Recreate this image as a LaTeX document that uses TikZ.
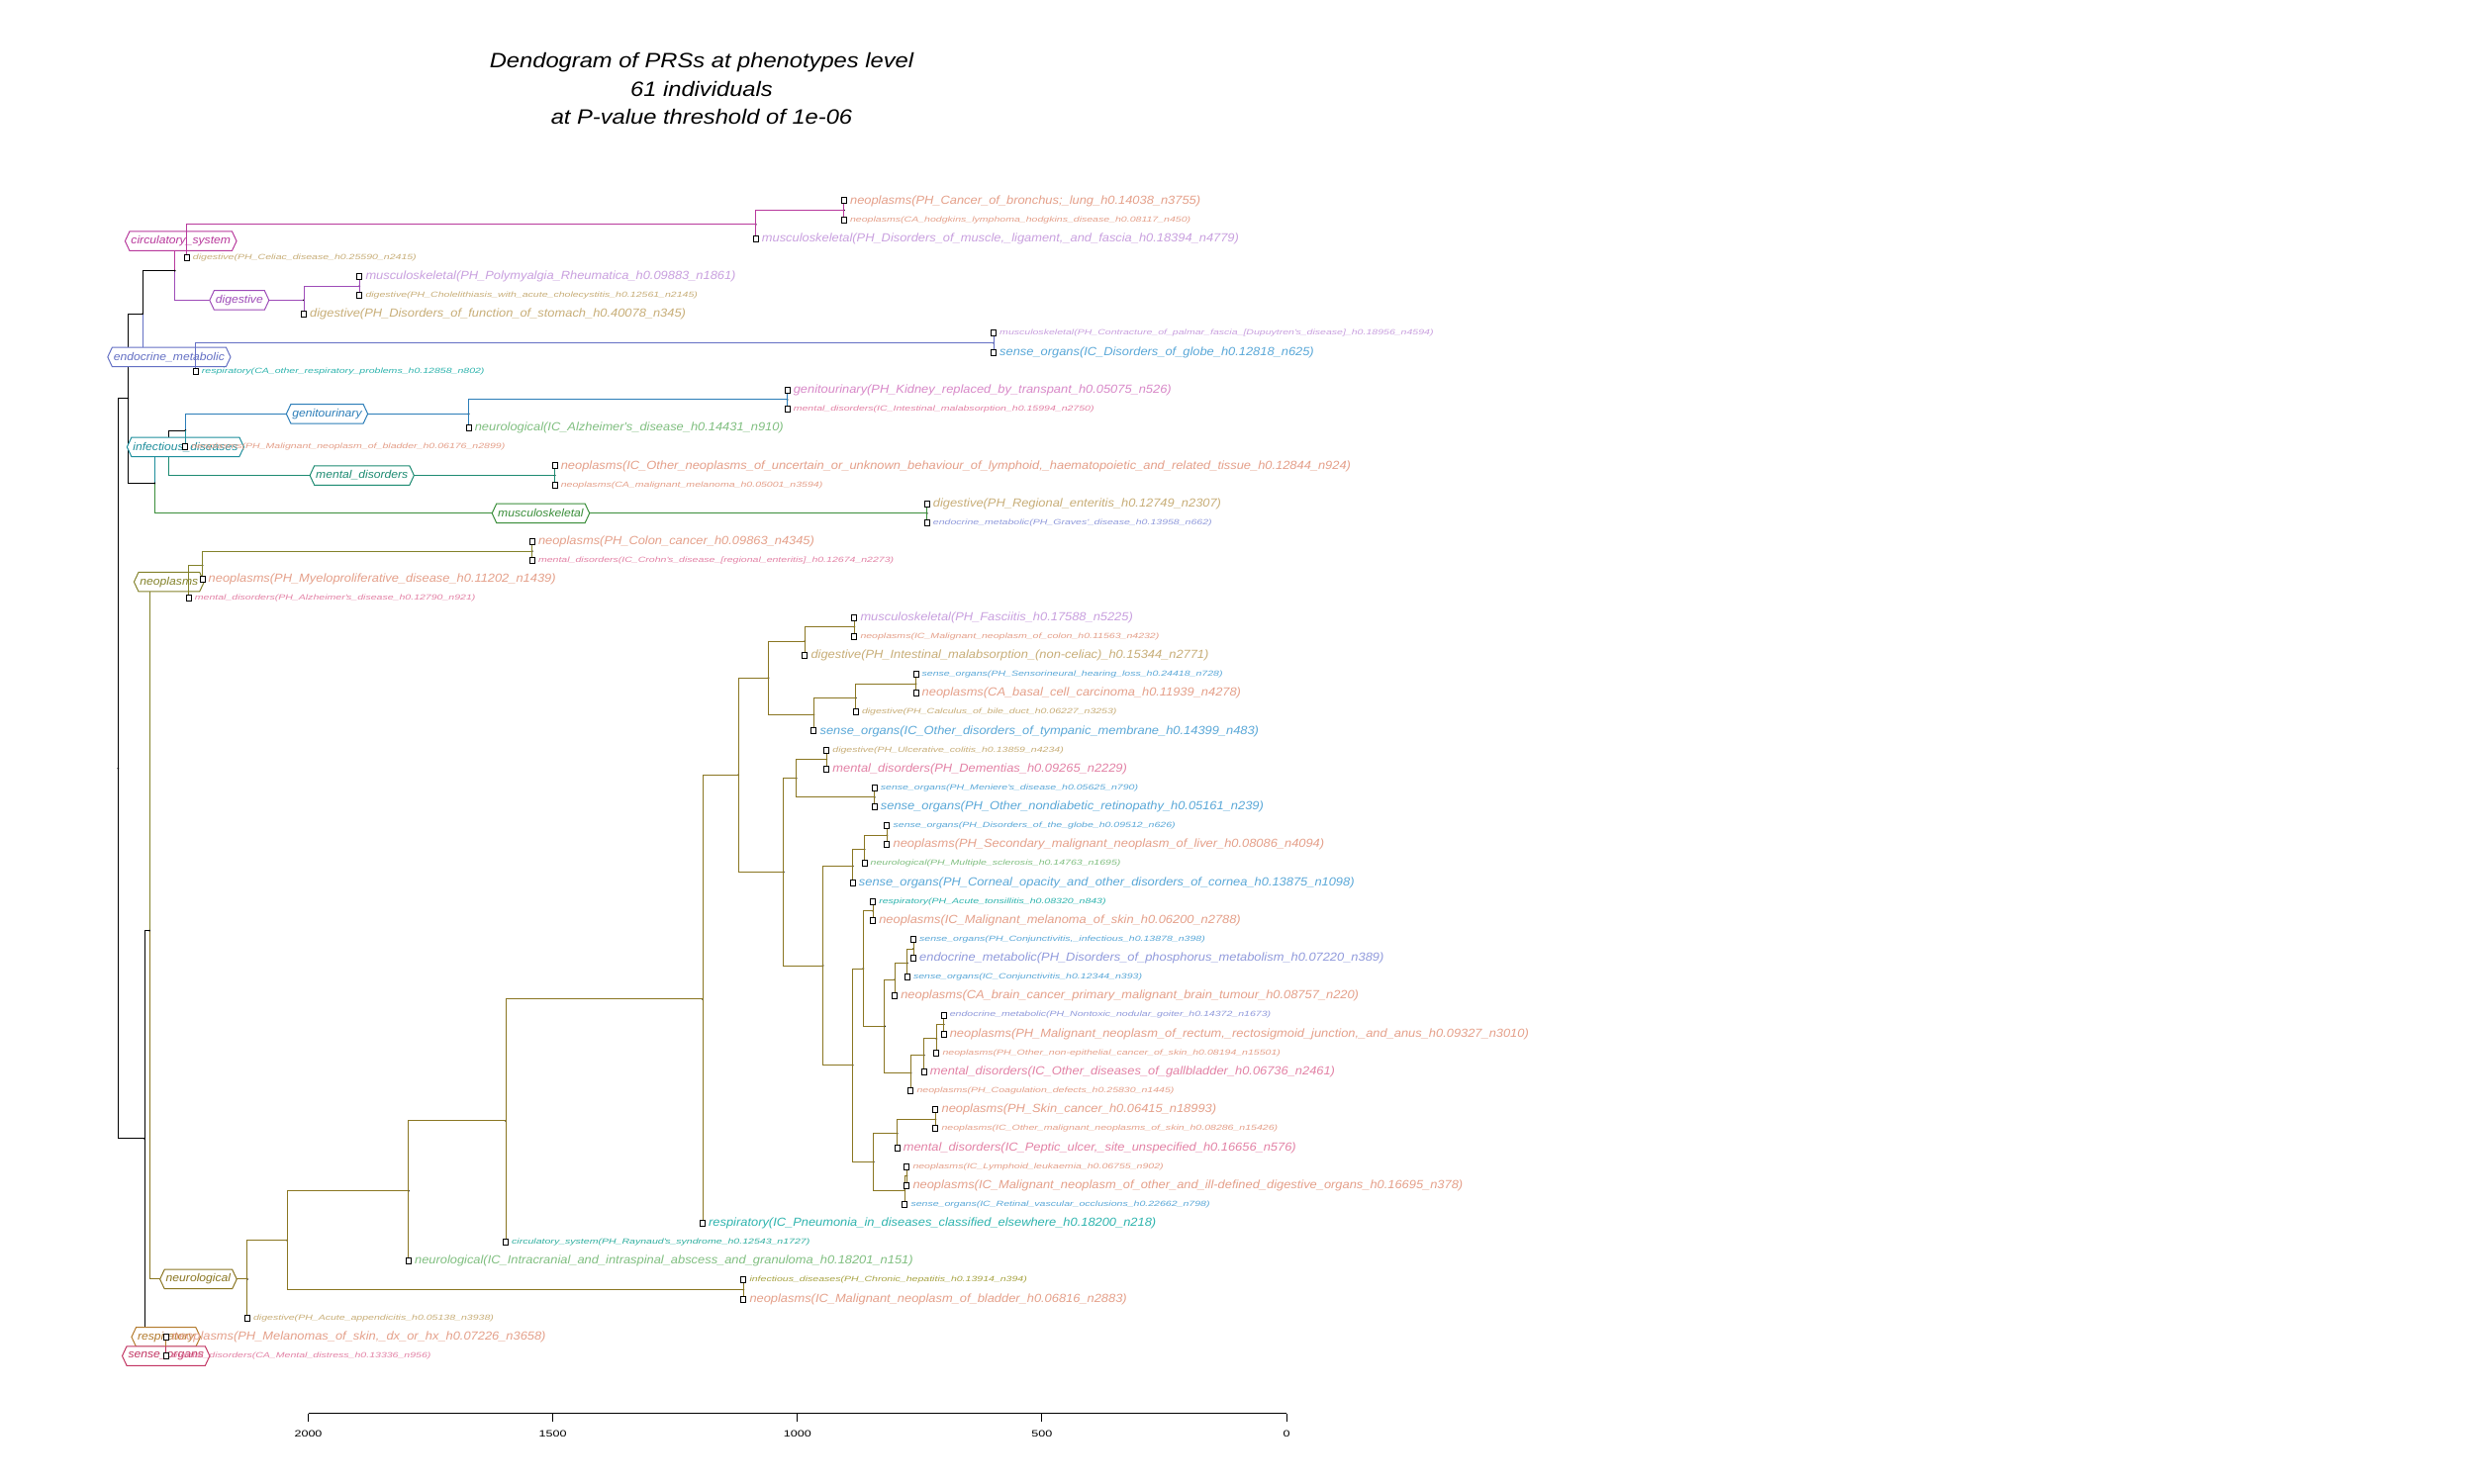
\documentclass[tikz,border=0pt]{standalone}
\usepackage{fontspec}
\usetikzlibrary{shapes.symbols,calc}
\newfontfamily\bigf{Liberation Sans}[FakeStretch=1.08]
\newfontfamily\smf{Liberation Sans}[FakeStretch=1.39]
\newfontfamily\axf{Liberation Sans}[FakeStretch=1.35]
\newfontfamily\ttlf{Liberation Sans}[FakeStretch=1.13]
\newcommand\apo{\textquotesingle}
% group (branch) colours
\definecolor{gcir}{HTML}{B8399C}
\definecolor{gdig}{HTML}{9E4CB8}
\definecolor{gend}{HTML}{6470C4}
\definecolor{ggen}{HTML}{2B7DB8}
\definecolor{ginf}{HTML}{1E8E9C}
\definecolor{gmen}{HTML}{1D8B72}
\definecolor{gmus}{HTML}{3A8E3A}
\definecolor{gneo}{HTML}{83822A}
\definecolor{gneu}{HTML}{8A7622}
\definecolor{gres}{HTML}{B37A2C}
\definecolor{gsen}{HTML}{C23462}
% leaf label colours
\definecolor{lneo}{HTML}{E5A08A}
\definecolor{lmus}{HTML}{C9A0DF}
\definecolor{ldig}{HTML}{C8AE78}
\definecolor{lsen}{HTML}{5AA8D8}
\definecolor{lmen}{HTML}{E382A6}
\definecolor{lend}{HTML}{909ADC}
\definecolor{lneu}{HTML}{80BF80}
\definecolor{lgen}{HTML}{D888C8}
\definecolor{lres}{HTML}{2EB4AE}
\definecolor{lcir}{HTML}{30AFA0}
\definecolor{linf}{HTML}{A8A444}
\newcommand\ed[3]{\draw[ln,draw=#1] (#2) |- (#3);}
\newcommand\LB[4]{\node[leafbox] (b#1) at (l#1) {};\node[#2,text=#3] (t#1) at ([xshift=0.55mm]l#1) {#4};}
\begin{document}
\begin{tikzpicture}[x=0.1mm,y=-0.1mm,
  declare function={ly(\i)=203+19.14*(\i-1);},
  ln/.style={line width=0.1mm},
  leafbox/.style={draw=black,line width=0.1mm,minimum width=0.5mm,minimum height=0.6mm,inner sep=0pt,fill=white},
  bigl/.style={font=\bigf\itshape\fontsize{3.39pt}{4pt}\selectfont,anchor=west,inner sep=0pt},
  smll/.style={font=\smf\itshape\fontsize{2.16pt}{3pt}\selectfont,anchor=west,inner sep=0pt},
  hexa/.style={shape=signal,signal to=east and west,signal pointer angle=130,draw=#1,text=#1,fill=white,line width=0.1mm,
    font=\bigf\itshape\fontsize{3.2pt}{4pt}\selectfont,inner xsep=0.15mm,inner ysep=0.45mm,minimum height=1.95mm},
  ndot/.style={circle,fill=black,inner sep=0pt,minimum size=0.2mm},
  ttl/.style={font=\ttlf\itshape\fontsize{5.97pt}{7pt}\selectfont,inner sep=0pt},
  axl/.style={font=\axf\fontsize{2.65pt}{3pt}\selectfont,inner sep=0pt},
  axln/.style={line width=0.1mm,draw=black}]
\fill[white] (0,0) rectangle (2500,1500);
\path[use as bounding box] (0,0) rectangle (2500,1500);
% title
\node[ttl] (ttl1) at (709,63) {Dendogram of PRSs at phenotypes level};
\node[ttl] (ttl2) at (709,90) {61 individuals};
\node[ttl] (ttl3) at (709,118) {at P-value threshold of 1e-06};
% leaves
\coordinate (l1) at (852.9,{ly(1)}); \coordinate (l2) at (852.9,{ly(2)});
\coordinate (l3) at (763.7,{ly(3)}); \coordinate (l4) at (188.75,{ly(4)});
\coordinate (l5) at (363.3,{ly(5)}); \coordinate (l6) at (363.3,{ly(6)});
\coordinate (l7) at (307,{ly(7)}); \coordinate (l8) at (1004,{ly(8)});
\coordinate (l9) at (1004,{ly(9)}); \coordinate (l10) at (197.7,{ly(10)});
\coordinate (l11) at (795.6,{ly(11)}); \coordinate (l12) at (795.6,{ly(12)});
\coordinate (l13) at (473.6,{ly(13)}); \coordinate (l14) at (187.4,{ly(14)});
\coordinate (l15) at (560.6,{ly(15)}); \coordinate (l16) at (560.6,{ly(16)});
\coordinate (l17) at (936.7,{ly(17)}); \coordinate (l18) at (936.7,{ly(18)});
\coordinate (l19) at (537.8,{ly(19)}); \coordinate (l20) at (537.8,{ly(20)});
\coordinate (l21) at (204.5,{ly(21)}); \coordinate (l22) at (190.7,{ly(22)});
\coordinate (l23) at (863.3,{ly(23)}); \coordinate (l24) at (863.3,{ly(24)});
\coordinate (l25) at (813.3,{ly(25)}); \coordinate (l26) at (925.5,{ly(26)});
\coordinate (l27) at (925.5,{ly(27)}); \coordinate (l28) at (864.8,{ly(28)});
\coordinate (l29) at (822.4,{ly(29)}); \coordinate (l30) at (835.2,{ly(30)});
\coordinate (l31) at (835.2,{ly(31)}); \coordinate (l32) at (883.7,{ly(32)});
\coordinate (l33) at (883.7,{ly(33)}); \coordinate (l34) at (896.4,{ly(34)});
\coordinate (l35) at (896.4,{ly(35)}); \coordinate (l36) at (873.5,{ly(36)});
\coordinate (l37) at (861.7,{ly(37)}); \coordinate (l38) at (882.1,{ly(38)});
\coordinate (l39) at (882.1,{ly(39)}); \coordinate (l40) at (923,{ly(40)});
\coordinate (l41) at (923,{ly(41)}); \coordinate (l42) at (916.8,{ly(42)});
\coordinate (l43) at (904.1,{ly(43)}); \coordinate (l44) at (953.6,{ly(44)});
\coordinate (l45) at (953.6,{ly(45)}); \coordinate (l46) at (946.4,{ly(46)});
\coordinate (l47) at (933.7,{ly(47)}); \coordinate (l48) at (920.4,{ly(48)});
\coordinate (l49) at (945.4,{ly(49)}); \coordinate (l50) at (945.4,{ly(50)});
\coordinate (l51) at (906.6,{ly(51)}); \coordinate (l52) at (916.3,{ly(52)});
\coordinate (l53) at (916.3,{ly(53)}); \coordinate (l54) at (914.3,{ly(54)});
\coordinate (l55) at (710,{ly(55)}); \coordinate (l56) at (511,{ly(56)});
\coordinate (l57) at (412.9,{ly(57)}); \coordinate (l58) at (751.3,{ly(58)});
\coordinate (l59) at (751.3,{ly(59)}); \coordinate (l60) at (249.9,{ly(60)});
\coordinate (l61) at (167.7,{ly(61)}); \coordinate (l62) at (167.7,{ly(62)});
% internal nodes
\coordinate (R) at (119.3,{ly(30.9778)});
\coordinate (A) at (129.3,{ly(11.4375)});
\coordinate (B) at (146,{ly(50.5181)});
\coordinate (C) at (144.1,{ly(6.96875)});
\coordinate (D) at (156.2,{ly(15.90625)});
\coordinate (P) at (176.7,{ly(4.6875)});
\coordinate (Q) at (188.75,{ly(3.125)});
\coordinate (Q2) at (763.7,{ly(2.25)});
\coordinate (Q3) at (852.9,{ly(1.5)});
\coordinate (Dg) at (307,{ly(6.25)});
\coordinate (Dg2) at (363.3,{ly(5.5)});
\coordinate (E) at (197.7,{ly(9.25)});
\coordinate (E2) at (1004,{ly(8.5)});
\coordinate (I1) at (170.9,{ly(14.3125)});
\coordinate (I2) at (187.4,{ly(13.125)});
\coordinate (G1) at (473.6,{ly(12.25)});
\coordinate (G2) at (795.6,{ly(11.5)});
\coordinate (Me) at (560.6,{ly(15.5)});
\coordinate (Mu) at (936.7,{ly(17.5)});
\coordinate (O) at (151,{ly(39.5362)});
\coordinate (N1) at (190.7,{ly(21.125)});
\coordinate (N2) at (204.5,{ly(20.25)});
\coordinate (N3) at (537.8,{ly(19.5)});
\coordinate (Nu1) at (249.9,{ly(57.9474)});
\coordinate (Nu2) at (290,{ly(55.8947)});
\coordinate (Nu3) at (751.3,{ly(58.5)});
\coordinate (Nu4) at (412.9,{ly(53.2894)});
\coordinate (Nu5) at (511,{ly(49.5789)});
\coordinate (Nu6) at (710,{ly(43.1577)});
\coordinate (Nu7) at (746,{ly(31.3154)});
\coordinate (M1) at (776.5,{ly(26.1875)});
\coordinate (M2) at (791.8,{ly(36.4434)});
\coordinate (M3) at (813.3,{ly(24.25)});
\coordinate (M4) at (863.3,{ly(23.5)});
\coordinate (M5) at (822.4,{ly(28.125)});
\coordinate (M6) at (864.8,{ly(27.25)});
\coordinate (M7) at (925.5,{ly(26.5)});
\coordinate (M8) at (804.6,{ly(31.5)});
\coordinate (M9) at (835.2,{ly(30.5)});
\coordinate (M10) at (883.7,{ly(32.5)});
\coordinate (M11) at (831.6,{ly(41.3867)});
\coordinate (M12) at (861.7,{ly(36.125)});
\coordinate (M13) at (873.5,{ly(35.25)});
\coordinate (M14) at (896.4,{ly(34.5)});
\coordinate (M15) at (861.7,{ly(46.6484)});
\coordinate (M16) at (872.4,{ly(41.546875)});
\coordinate (M17) at (882.1,{ly(38.5)});
\coordinate (M18) at (893.9,{ly(44.59375)});
\coordinate (M19) at (904.1,{ly(42.125)});
\coordinate (M20) at (916.8,{ly(41.25)});
\coordinate (M21) at (923,{ly(40.5)});
\coordinate (M22) at (920.4,{ly(47.0625)});
\coordinate (M23) at (933.7,{ly(46.125)});
\coordinate (M24) at (946.4,{ly(45.25)});
\coordinate (M25) at (953.6,{ly(44.5)});
\coordinate (M26) at (882.7,{ly(51.75)});
\coordinate (M27) at (906.6,{ly(50.25)});
\coordinate (M28) at (945.4,{ly(49.5)});
\coordinate (M29) at (914.3,{ly(53.25)});
\coordinate (M30) at (916.3,{ly(52.5)});
\coordinate (BP) at (167.7,{ly(61.5)});
% ---- pass 1: edges under the group labels
\ed{black}{R}{A} \ed{black}{R}{B} \ed{black}{A}{C} \ed{black}{A}{D}
\ed{black}{C}{P} \ed{black}{I1}{I2} \ed{black}{B}{O} \ed{black}{B}{BP}
\ed{gend}{C}{E} \ed{gcir}{P}{Q} \ed{gdig}{P}{Dg} \ed{ginf}{D}{I1}
\ed{gmen}{I1}{Me} \ed{ggen}{I2}{G1} \ed{gmus}{D}{Mu}
\ed{gneo}{O}{N1} \ed{gneu}{O}{Nu1}
% node dots
\foreach \n in {R,A,B,C,D,P,Q,Q2,Q3,Dg,Dg2,E,E2,I1,I2,G1,G2,Me,Mu,O,N1,N2,N3,Nu1,Nu2,Nu3,Nu4,Nu5,Nu6,Nu7,M1,M2,M3,M4,M5,M6,M7,M8,M9,M10,M11,M12,M13,M14,M15,M16,M17,M18,M19,M20,M21,M22,M23,M24,M25,M26,M27,M28,M29,M30,BP}
  \node[ndot] (dot\n) at (\n) {};
% ---- group labels
\node[hexa=gcir] (hcir) at ($(P |- Q)!0.5!(Q)$) {circulatory\_system};
\node[hexa=gdig] (hdig) at ($(P |- Dg)!0.5!(Dg)$) {digestive};
\node[hexa=gend] (hend) at ($(C |- E)!0.5!(E)$) {endocrine\_metabolic};
\node[hexa=ggen] (hgen) at ($(I2 |- G1)!0.5!(G1)$) {genitourinary};
\node[hexa=ginf] (hinf) at (l14) {infectious\_diseases};
\node[hexa=gmen] (hmen) at ($(I1 |- Me)!0.5!(Me)$) {mental\_disorders};
\node[hexa=gmus] (hmus) at ($(D |- Mu)!0.5!(Mu)$) {musculoskeletal};
\node[hexa=gneo] (hneo) at ($(O |- N1)!0.5!(N1)$) {neoplasms};
\node[hexa=gneu] (hneu) at ($(O |- Nu1)!0.5!(Nu1)$) {neurological};
\node[hexa=gres] (hres) at (l61) {respiratory};
\node[hexa=gsen] (hsen) at (l62) {sense\_organs};
% ---- pass 2: edges inside groups
\ed{gcir}{Q}{Q2} \ed{gcir}{Q}{l4} \ed{gcir}{Q2}{Q3} \ed{gcir}{Q2}{l3} \ed{gcir}{Q3}{l1} \ed{gcir}{Q3}{l2}
\ed{gdig}{Dg}{Dg2} \ed{gdig}{Dg}{l7} \ed{gdig}{Dg2}{l5} \ed{gdig}{Dg2}{l6}
\ed{gend}{E}{E2} \ed{gend}{E}{l10} \ed{gend}{E2}{l8} \ed{gend}{E2}{l9}
\ed{ginf}{I2}{l14}
\ed{ggen}{G1}{G2} \ed{ggen}{G1}{l13} \ed{ggen}{G2}{l11} \ed{ggen}{G2}{l12}
\ed{gmen}{Me}{l15} \ed{gmen}{Me}{l16}
\ed{gmus}{Mu}{l17} \ed{gmus}{Mu}{l18}
\ed{gneo}{N1}{N2} \ed{gneo}{N1}{l22} \ed{gneo}{N2}{N3} \ed{gneo}{N2}{l21} \ed{gneo}{N3}{l19} \ed{gneo}{N3}{l20}
\ed{gneu}{Nu1}{Nu2} \ed{gneu}{Nu1}{l60} \ed{gneu}{Nu2}{Nu4} \ed{gneu}{Nu2}{Nu3}
\ed{gneu}{Nu3}{l58} \ed{gneu}{Nu3}{l59} \ed{gneu}{Nu4}{Nu5} \ed{gneu}{Nu4}{l57}
\ed{gneu}{Nu5}{Nu6} \ed{gneu}{Nu5}{l56} \ed{gneu}{Nu6}{Nu7} \ed{gneu}{Nu6}{l55}
\ed{gneu}{Nu7}{M1} \ed{gneu}{Nu7}{M2}
\ed{gneu}{M1}{M3} \ed{gneu}{M1}{M5} \ed{gneu}{M3}{M4} \ed{gneu}{M3}{l25} \ed{gneu}{M4}{l23} \ed{gneu}{M4}{l24}
\ed{gneu}{M5}{M6} \ed{gneu}{M5}{l29} \ed{gneu}{M6}{M7} \ed{gneu}{M6}{l28} \ed{gneu}{M7}{l26} \ed{gneu}{M7}{l27}
\ed{gneu}{M2}{M8} \ed{gneu}{M2}{M11} \ed{gneu}{M8}{M9} \ed{gneu}{M8}{M10}
\ed{gneu}{M9}{l30} \ed{gneu}{M9}{l31} \ed{gneu}{M10}{l32} \ed{gneu}{M10}{l33}
\ed{gneu}{M11}{M12} \ed{gneu}{M11}{M15} \ed{gneu}{M12}{M13} \ed{gneu}{M12}{l37}
\ed{gneu}{M13}{M14} \ed{gneu}{M13}{l36} \ed{gneu}{M14}{l34} \ed{gneu}{M14}{l35}
\ed{gneu}{M15}{M16} \ed{gneu}{M15}{M26} \ed{gneu}{M16}{M17} \ed{gneu}{M16}{M18}
\ed{gneu}{M17}{l38} \ed{gneu}{M17}{l39} \ed{gneu}{M18}{M19} \ed{gneu}{M18}{M22}
\ed{gneu}{M19}{M20} \ed{gneu}{M19}{l43} \ed{gneu}{M20}{M21} \ed{gneu}{M20}{l42}
\ed{gneu}{M21}{l40} \ed{gneu}{M21}{l41}
\ed{gneu}{M22}{M23} \ed{gneu}{M22}{l48} \ed{gneu}{M23}{M24} \ed{gneu}{M23}{l47}
\ed{gneu}{M24}{M25} \ed{gneu}{M24}{l46} \ed{gneu}{M25}{l44} \ed{gneu}{M25}{l45}
\ed{gneu}{M26}{M27} \ed{gneu}{M26}{M29} \ed{gneu}{M27}{M28} \ed{gneu}{M27}{l51}
\ed{gneu}{M28}{l49} \ed{gneu}{M28}{l50} \ed{gneu}{M29}{M30} \ed{gneu}{M29}{l54}
\ed{gneu}{M30}{l52} \ed{gneu}{M30}{l53}
\ed{gres}{BP}{l61} \ed{gsen}{BP}{l62}
% ---- leaf boxes and labels
\LB{1}{bigl}{lneo}{neoplasms(PH\_Cancer\_of\_bronchus;\_lung\_h0.14038\_n3755)}
\LB{2}{smll}{lneo}{neoplasms(CA\_hodgkins\_lymphoma\_hodgkins\_disease\_h0.08117\_n450)}
\LB{3}{bigl}{lmus}{musculoskeletal(PH\_Disorders\_of\_muscle,\_ligament,\_and\_fascia\_h0.18394\_n4779)}
\LB{4}{smll}{ldig}{digestive(PH\_Celiac\_disease\_h0.25590\_n2415)}
\LB{5}{bigl}{lmus}{musculoskeletal(PH\_Polymyalgia\_Rheumatica\_h0.09883\_n1861)}
\LB{6}{smll}{ldig}{digestive(PH\_Cholelithiasis\_with\_acute\_cholecystitis\_h0.12561\_n2145)}
\LB{7}{bigl}{ldig}{digestive(PH\_Disorders\_of\_function\_of\_stomach\_h0.40078\_n345)}
\LB{8}{smll}{lmus}{musculoskeletal(PH\_Contracture\_of\_palmar\_fascia\_[Dupuytren\apo s\_disease]\_h0.18956\_n4594)}
\LB{9}{bigl}{lsen}{sense\_organs(IC\_Disorders\_of\_globe\_h0.12818\_n625)}
\LB{10}{smll}{lres}{respiratory(CA\_other\_respiratory\_problems\_h0.12858\_n802)}
\LB{11}{bigl}{lgen}{genitourinary(PH\_Kidney\_replaced\_by\_transpant\_h0.05075\_n526)}
\LB{12}{smll}{lmen}{mental\_disorders(IC\_Intestinal\_malabsorption\_h0.15994\_n2750)}
\LB{13}{bigl}{lneu}{neurological(IC\_Alzheimer\apo s\_disease\_h0.14431\_n910)}
\LB{14}{smll}{lneo}{neoplasms(PH\_Malignant\_neoplasm\_of\_bladder\_h0.06176\_n2899)}
\LB{15}{bigl}{lneo}{neoplasms(IC\_Other\_neoplasms\_of\_uncertain\_or\_unknown\_behaviour\_of\_lymphoid,\_haematopoietic\_and\_related\_tissue\_h0.12844\_n924)}
\LB{16}{smll}{lneo}{neoplasms(CA\_malignant\_melanoma\_h0.05001\_n3594)}
\LB{17}{bigl}{ldig}{digestive(PH\_Regional\_enteritis\_h0.12749\_n2307)}
\LB{18}{smll}{lend}{endocrine\_metabolic(PH\_Graves\apo\_disease\_h0.13958\_n662)}
\LB{19}{bigl}{lneo}{neoplasms(PH\_Colon\_cancer\_h0.09863\_n4345)}
\LB{20}{smll}{lmen}{mental\_disorders(IC\_Crohn\apo s\_disease\_[regional\_enteritis]\_h0.12674\_n2273)}
\LB{21}{bigl}{lneo}{neoplasms(PH\_Myeloproliferative\_disease\_h0.11202\_n1439)}
\LB{22}{smll}{lmen}{mental\_disorders(PH\_Alzheimer\apo s\_disease\_h0.12790\_n921)}
\LB{23}{bigl}{lmus}{musculoskeletal(PH\_Fasciitis\_h0.17588\_n5225)}
\LB{24}{smll}{lneo}{neoplasms(IC\_Malignant\_neoplasm\_of\_colon\_h0.11563\_n4232)}
\LB{25}{bigl}{ldig}{digestive(PH\_Intestinal\_malabsorption\_(non-celiac)\_h0.15344\_n2771)}
\LB{26}{smll}{lsen}{sense\_organs(PH\_Sensorineural\_hearing\_loss\_h0.24418\_n728)}
\LB{27}{bigl}{lneo}{neoplasms(CA\_basal\_cell\_carcinoma\_h0.11939\_n4278)}
\LB{28}{smll}{ldig}{digestive(PH\_Calculus\_of\_bile\_duct\_h0.06227\_n3253)}
\LB{29}{bigl}{lsen}{sense\_organs(IC\_Other\_disorders\_of\_tympanic\_membrane\_h0.14399\_n483)}
\LB{30}{smll}{ldig}{digestive(PH\_Ulcerative\_colitis\_h0.13859\_n4234)}
\LB{31}{bigl}{lmen}{mental\_disorders(PH\_Dementias\_h0.09265\_n2229)}
\LB{32}{smll}{lsen}{sense\_organs(PH\_Meniere\apo s\_disease\_h0.05625\_n790)}
\LB{33}{bigl}{lsen}{sense\_organs(PH\_Other\_nondiabetic\_retinopathy\_h0.05161\_n239)}
\LB{34}{smll}{lsen}{sense\_organs(PH\_Disorders\_of\_the\_globe\_h0.09512\_n626)}
\LB{35}{bigl}{lneo}{neoplasms(PH\_Secondary\_malignant\_neoplasm\_of\_liver\_h0.08086\_n4094)}
\LB{36}{smll}{lneu}{neurological(PH\_Multiple\_sclerosis\_h0.14763\_n1695)}
\LB{37}{bigl}{lsen}{sense\_organs(PH\_Corneal\_opacity\_and\_other\_disorders\_of\_cornea\_h0.13875\_n1098)}
\LB{38}{smll}{lres}{respiratory(PH\_Acute\_tonsillitis\_h0.08320\_n843)}
\LB{39}{bigl}{lneo}{neoplasms(IC\_Malignant\_melanoma\_of\_skin\_h0.06200\_n2788)}
\LB{40}{smll}{lsen}{sense\_organs(PH\_Conjunctivitis,\_infectious\_h0.13878\_n398)}
\LB{41}{bigl}{lend}{endocrine\_metabolic(PH\_Disorders\_of\_phosphorus\_metabolism\_h0.07220\_n389)}
\LB{42}{smll}{lsen}{sense\_organs(IC\_Conjunctivitis\_h0.12344\_n393)}
\LB{43}{bigl}{lneo}{neoplasms(CA\_brain\_cancer\_primary\_malignant\_brain\_tumour\_h0.08757\_n220)}
\LB{44}{smll}{lend}{endocrine\_metabolic(PH\_Nontoxic\_nodular\_goiter\_h0.14372\_n1673)}
\LB{45}{bigl}{lneo}{neoplasms(PH\_Malignant\_neoplasm\_of\_rectum,\_rectosigmoid\_junction,\_and\_anus\_h0.09327\_n3010)}
\LB{46}{smll}{lneo}{neoplasms(PH\_Other\_non-epithelial\_cancer\_of\_skin\_h0.08194\_n15501)}
\LB{47}{bigl}{lmen}{mental\_disorders(IC\_Other\_diseases\_of\_gallbladder\_h0.06736\_n2461)}
\LB{48}{smll}{lneo}{neoplasms(PH\_Coagulation\_defects\_h0.25830\_n1445)}
\LB{49}{bigl}{lneo}{neoplasms(PH\_Skin\_cancer\_h0.06415\_n18993)}
\LB{50}{smll}{lneo}{neoplasms(IC\_Other\_malignant\_neoplasms\_of\_skin\_h0.08286\_n15426)}
\LB{51}{bigl}{lmen}{mental\_disorders(IC\_Peptic\_ulcer,\_site\_unspecified\_h0.16656\_n576)}
\LB{52}{smll}{lneo}{neoplasms(IC\_Lymphoid\_leukaemia\_h0.06755\_n902)}
\LB{53}{bigl}{lneo}{neoplasms(IC\_Malignant\_neoplasm\_of\_other\_and\_ill-defined\_digestive\_organs\_h0.16695\_n378)}
\LB{54}{smll}{lsen}{sense\_organs(IC\_Retinal\_vascular\_occlusions\_h0.22662\_n798)}
\LB{55}{bigl}{lres}{respiratory(IC\_Pneumonia\_in\_diseases\_classified\_elsewhere\_h0.18200\_n218)}
\LB{56}{smll}{lcir}{circulatory\_system(PH\_Raynaud\apo s\_syndrome\_h0.12543\_n1727)}
\LB{57}{bigl}{lneu}{neurological(IC\_Intracranial\_and\_intraspinal\_abscess\_and\_granuloma\_h0.18201\_n151)}
\LB{58}{smll}{linf}{infectious\_diseases(PH\_Chronic\_hepatitis\_h0.13914\_n394)}
\LB{59}{bigl}{lneo}{neoplasms(IC\_Malignant\_neoplasm\_of\_bladder\_h0.06816\_n2883)}
\LB{60}{smll}{ldig}{digestive(PH\_Acute\_appendicitis\_h0.05138\_n3938)}
\LB{61}{bigl}{lneo}{neoplasms(PH\_Melanomas\_of\_skin,\_dx\_or\_hx\_h0.07226\_n3658)}
\LB{62}{smll}{lmen}{mental\_disorders(CA\_Mental\_distress\_h0.13336\_n956)}
% ---- axis
\coordinate (a2000) at (311.5,1428.5);
\coordinate (a1500) at (558.6,1428.5);
\coordinate (a1000) at (805.8,1428.5);
\coordinate (a500) at (1052.9,1428.5);
\coordinate (a0) at (1300,1428.5);
\draw[axln] (a2000) -- (a0);
\foreach \v in {2000,1500,1000,500,0}{
  \draw[axln] (a\v) -- ++(0,8);
  \node[axl] (al\v) at ([yshift=-2.1mm]a\v) {\v};
}
\end{tikzpicture}
\end{document}
